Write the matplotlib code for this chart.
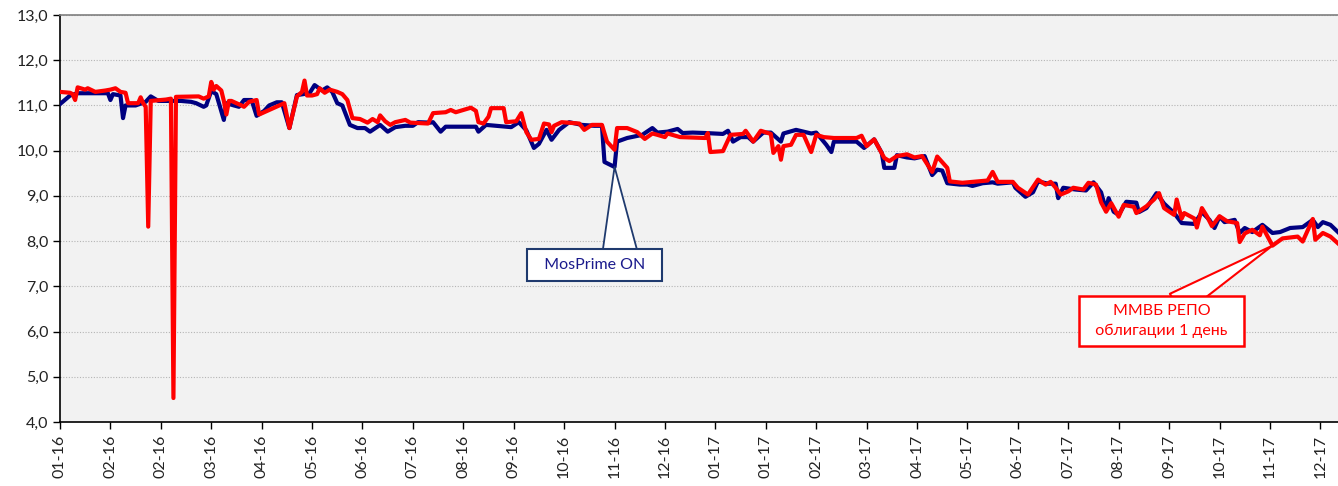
import matplotlib
matplotlib.use("Agg")
import matplotlib.pyplot as plt

# trading-day index (0 = first day of Jan 2016) and overnight rates, %
mosprime_days = [0, 4, 7, 19, 20, 21, 24, 25, 26, 30, 34, 36, 39, 48, 52, 54, 57, 58, 60, 62,
                 65, 66, 69, 71, 73, 76, 78, 81, 83, 86, 88, 91, 94, 99, 101, 104, 106, 108, 110, 112,
                 115, 118, 121, 123, 127, 130, 133, 137, 140, 142, 147, 148, 151, 153, 165, 166, 169, 179, 182, 185,
                 188, 190, 193, 195, 198, 202, 207, 212, 215, 216, 220, 221, 225, 231, 235, 237, 241, 245, 247, 251,
                 256, 263, 265, 267, 270, 273, 275, 279, 282, 286, 287, 292, 298, 300, 304, 306, 307, 316, 319, 323,
                 326, 327, 331, 332, 336, 339, 343, 346, 348, 350, 352, 357, 360, 362, 366, 370, 372, 378, 379, 383,
                 386, 388, 392, 395, 396, 398, 403, 407, 410, 413, 415, 416, 418, 420, 423, 427, 428, 431, 435, 438,
                 442, 445, 450, 453, 456, 458, 460, 462, 466, 468, 470, 473, 477, 481, 484, 488, 493, 497, 499, 501,
                 504, 507]
mosprime_rate = [11.03, 11.22, 11.27, 11.27, 11.12, 11.25, 11.22, 10.72, 11.0, 11.0, 11.08, 11.2, 11.1, 11.1, 11.08, 11.05, 10.97, 11.0, 11.32, 11.25,
                 10.68, 11.05, 11.0, 10.97, 11.12, 11.12, 10.77, 10.88, 11.0, 11.07, 11.07, 10.5, 11.23, 11.27, 11.45, 11.33, 11.4, 11.3, 11.05, 11.0,
                 10.57, 10.5, 10.5, 10.42, 10.57, 10.42, 10.52, 10.55, 10.55, 10.63, 10.62, 10.63, 10.42, 10.53, 10.53, 10.42, 10.57, 10.52, 10.63, 10.45,
                 10.06, 10.15, 10.46, 10.24, 10.46, 10.63, 10.57, 10.55, 10.55, 9.75, 9.64, 10.2, 10.28, 10.35, 10.5, 10.4, 10.42, 10.48, 10.39, 10.4,
                 10.39, 10.37, 10.44, 10.2, 10.3, 10.3, 10.2, 10.4, 10.4, 10.2, 10.38, 10.46, 10.38, 10.4, 10.13, 9.97, 10.2, 10.2, 10.06, 10.25,
                 9.95, 9.62, 9.62, 9.9, 9.85, 9.83, 9.88, 9.46, 9.58, 9.56, 9.28, 9.25, 9.25, 9.22, 9.28, 9.3, 9.27, 9.3, 9.18, 8.98,
                 9.08, 9.32, 9.27, 9.27, 8.95, 9.18, 9.14, 9.12, 9.3, 9.08, 8.69, 8.95, 8.65, 8.58, 8.87, 8.85, 8.64, 8.73, 9.06, 8.83,
                 8.62, 8.4, 8.38, 8.64, 8.47, 8.29, 8.54, 8.42, 8.47, 8.18, 8.29, 8.2, 8.36, 8.18, 8.2, 8.29, 8.31, 8.47, 8.31, 8.42,
                 8.36, 8.2]

repo_days = [0, 4, 5, 6, 7, 10, 11, 14, 18, 20, 22, 24, 26, 27, 31, 32, 33, 34, 35, 36,
             42, 44, 45, 46, 55, 57, 59, 60, 61, 62, 64, 65, 66, 67, 68, 72, 73, 75, 78, 79,
             81, 83, 87, 89, 91, 93, 94, 96, 97, 98, 100, 102, 103, 105, 107, 110, 112, 114, 116, 119,
             122, 124, 126, 127, 129, 131, 133, 137, 139, 146, 148, 153, 155, 157, 163, 165, 166, 168, 170, 171,
             176, 177, 181, 183, 185, 187, 190, 192, 194, 195, 196, 199, 206, 208, 211, 215, 217, 220, 221, 225,
             229, 232, 235, 237, 240, 241, 246, 256, 257, 258, 263, 266, 271, 272, 275, 278, 282, 283, 285, 286,
             287, 290, 292, 295, 298, 300, 303, 307, 316, 318, 320, 323, 327, 329, 332, 336, 339, 342, 346, 348,
             352, 353, 358, 364, 368, 370, 372, 378, 380, 384, 388, 391, 393, 395, 397, 400, 402, 406, 408, 411,
             413, 415, 417, 420, 422, 426, 427, 431, 434, 436, 438, 442, 443, 445, 446, 450, 451, 453, 455, 457,
             460, 463, 467, 468, 470, 473, 476, 477, 481, 485, 491, 493, 497, 498, 501, 504, 507]
repo_rate = [11.3, 11.28, 11.25, 11.12, 11.4, 11.35, 11.38, 11.3, 11.33, 11.35, 11.38, 11.3, 11.28, 11.05, 11.05, 11.18, 11.05, 10.97, 8.32, 11.1,
             11.13, 11.15, 4.53, 11.19, 11.2, 11.15, 11.2, 11.52, 11.35, 11.43, 11.33, 11.1, 10.8, 11.1, 11.1, 11.0, 10.97, 11.08, 11.12, 10.8,
             10.85, 10.9, 11.0, 11.05, 10.5, 10.97, 11.2, 11.3, 11.55, 11.22, 11.22, 11.25, 11.38, 11.28, 11.35, 11.3, 11.25, 11.12, 10.72, 10.7,
             10.62, 10.7, 10.63, 10.78, 10.65, 10.57, 10.63, 10.68, 10.62, 10.6, 10.83, 10.85, 10.9, 10.85, 10.95, 10.88, 10.63, 10.6, 10.75, 10.94,
             10.94, 10.63, 10.65, 10.83, 10.41, 10.24, 10.26, 10.6, 10.58, 10.41, 10.55, 10.63, 10.6, 10.46, 10.57, 10.57, 10.2, 10.02, 10.5, 10.5,
             10.41, 10.26, 10.38, 10.35, 10.3, 10.38, 10.3, 10.28, 10.39, 9.97, 9.99, 10.35, 10.37, 10.44, 10.2, 10.44, 10.37, 9.95, 10.1, 9.8,
             10.1, 10.13, 10.35, 10.35, 9.97, 10.35, 10.3, 10.28, 10.28, 10.33, 10.1, 10.25, 9.84, 9.77, 9.88, 9.92, 9.85, 9.88, 9.53, 9.87,
             9.62, 9.32, 9.29, 9.32, 9.34, 9.53, 9.31, 9.31, 9.18, 9.03, 9.36, 9.25, 9.31, 9.18, 9.03, 9.1, 9.18, 9.14, 9.29, 9.25,
             8.86, 8.65, 8.84, 8.54, 8.8, 8.76, 8.62, 8.77, 8.92, 9.06, 8.73, 8.58, 8.92, 8.5, 8.62, 8.5, 8.3, 8.73, 8.55, 8.33,
             8.55, 8.44, 8.4, 7.98, 8.17, 8.25, 8.13, 8.32, 7.9, 8.06, 8.1, 7.99, 8.49, 8.03, 8.18, 8.1, 7.95]

tick_days = list(range(0, 501, 20))
tick_labels = ['01-16', '02-16', '02-16', '03-16', '04-16', '05-16', '06-16', '07-16', '08-16',
               '09-16', '10-16', '11-16', '12-16', '01-17', '01-17', '02-17', '03-17', '04-17',
               '05-17', '06-17', '07-17', '08-17', '09-17', '10-17', '11-17', '12-17']
y_ticks = [4, 5, 6, 7, 8, 9, 10, 11, 12, 13]

fam = ['Lato', 'Open Sans', 'DejaVu Sans']
plt.rcParams['font.family'] = fam

fig = plt.figure(figsize=(13.38, 4.86), dpi=100)
ax = fig.add_axes([60 / 1338, 64 / 486, 1278 / 1338, 407 / 486])
ax.set_facecolor('#f2f2f2')

ax.plot(mosprime_days, mosprime_rate, color='#000080', lw=3.0, solid_joinstyle='round', zorder=3)
ax.plot(repo_days, repo_rate, color='#ff0000', lw=3.0, solid_joinstyle='round', zorder=4)

ax.set_xlim(0, 507)
ax.set_ylim(4, 13)
ax.set_yticks(y_ticks)
ax.set_yticklabels([f'{v:.1f}'.replace('.', ',') for v in y_ticks])
ax.set_xticks(tick_days)
ax.set_xticklabels(tick_labels, rotation=90)
ax.tick_params(axis='both', direction='out', length=5, width=1, color='black',
               labelsize=11.5, labelcolor='#222222')
ax.tick_params(axis='x', pad=4)

ax.yaxis.grid(True, linestyle=(0, (1, 1.5)), color='#b5b5b5', lw=0.8)
ax.set_axisbelow(True)
for s in ['left', 'bottom']:
    ax.spines[s].set_color('black')
    ax.spines[s].set_linewidth(1.2)
ax.spines['top'].set_color('#7f7f7f')
ax.spines['top'].set_linewidth(1.2)
ax.spines['right'].set_visible(False)

# callouts: the wedge starts inside the text box, the box is drawn over its base
ax.annotate('  MosPrime ON  ', xy=(220, 9.64), xytext=(212, 7.47),
            ha='center', va='center', fontsize=11.5, color='#1a1a8c', family=fam,
            bbox=dict(boxstyle='square,pad=0.55', fc='white', ec='#1f3a6e', lw=1.5),
            arrowprops=dict(arrowstyle='wedge,tail_width=1.35,shrink_factor=0.5',
                            mutation_scale=20, fc='white', ec='#1f3a6e', lw=1.3,
                            patchA=None, shrinkA=0, shrinkB=0, relpos=(0.72, 1.0)),
            zorder=6)

ax.annotate('ММВБ РЕПО\n  облигации 1 день  ', xy=(481, 7.9), xytext=(437, 6.23),
            ha='center', va='center', fontsize=11.5, color='#ff0000', family=fam,
            linespacing=1.45, multialignment='center',
            bbox=dict(boxstyle='square,pad=0.5', fc='white', ec='#ff0000', lw=1.8),
            arrowprops=dict(arrowstyle='wedge,tail_width=0.9,shrink_factor=0.5',
                            mutation_scale=20, fc='white', ec='#ff0000', lw=1.5,
                            patchA=None, shrinkA=0, shrinkB=0, relpos=(0.6, 1.0)),
            zorder=6)

fig.savefig('out.png', dpi=100)
